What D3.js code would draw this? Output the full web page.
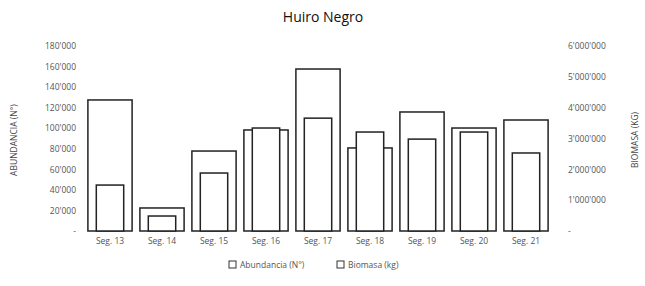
<html>
<head>
<meta charset="utf-8">
<style>
  body { margin: 0; background: #fff; }
  text { font-family: "Open Sans", "Liberation Sans", sans-serif; }
</style>
</head>
<body>
<script src="https://cdn.jsdelivr.net/npm/d3@7/dist/d3.min.js"></script>
<script>
var width = 645, height = 286;

var segments = ["Seg. 13", "Seg. 14", "Seg. 15", "Seg. 16", "Seg. 17", "Seg. 18", "Seg. 19", "Seg. 20", "Seg. 21"];
var abundancia = [127500, 22400, 77800, 98300, 157600, 80800, 115800, 100200, 108000];
var biomasa = [1490000, 486000, 1880000, 3340000, 3660000, 3210000, 2980000, 3210000, 2530000];
var leftTicks = [0, 20000, 40000, 60000, 80000, 100000, 120000, 140000, 160000, 180000];
var rightTicks = [0, 1000000, 2000000, 3000000, 4000000, 5000000, 6000000];
var seriesNames = ["Abundancia (N°)", "Biomasa (kg)"];

var fmt = function(v) {
    if (v == 0) return "-";
    return d3.format(",")(v).replace(/,/g, "'");
};

var svg = d3.select("body").append("svg")
    .attr("width", width)
    .attr("height", height);

var x = d3.scaleBand().domain(segments).range([84, 552]).paddingInner(0.15).paddingOuter(0.075);
var yL = d3.scaleLinear().domain([0, 180000]).range([231, 46]);
var yR = d3.scaleLinear().domain([0, 6000000]).range([231, 46]);

// title
svg.append("text")
    .attr("x", 323).attr("y", 22)
    .attr("text-anchor", "middle")
    .style("font-size", "14px")
    .style("fill", "#111")
    .text("Huiro Negro");

// left axis
var axL = svg.append("g")
    .attr("transform", "translate(80,0)")
    .call(d3.axisLeft(yL).tickValues(leftTicks).tickFormat(fmt).tickSize(0).tickPadding(4));
axL.select(".domain").remove();
axL.selectAll("text").style("font-size", "8.5px").style("fill", "#555");

// right axis
var axR = svg.append("g")
    .attr("transform", "translate(566,0)")
    .call(d3.axisRight(yR).tickValues(rightTicks).tickFormat(fmt).tickSize(0).tickPadding(2));
axR.select(".domain").remove();
axR.selectAll("text").style("font-size", "8.5px").style("fill", "#555");

// axis titles
svg.append("text")
    .attr("transform", "translate(17,140) rotate(-90)")
    .attr("text-anchor", "middle")
    .style("font-size", "8.5px").style("fill", "#444")
    .text("ABUNDANCIA (N°)");
svg.append("text")
    .attr("transform", "translate(638,140) rotate(-90)")
    .attr("text-anchor", "middle")
    .style("font-size", "8.5px").style("fill", "#444")
    .text("BIOMASA (KG)");

// outer bars: abundancia
svg.selectAll(".outer")
    .data(segments)
    .enter().append("rect")
    .attr("class", "outer")
    .attr("x", function(d) { return x(d); })
    .attr("width", x.bandwidth())
    .attr("y", function(d, i) { return yL(abundancia[i]); })
    .attr("height", function(d, i) { return yL(0) - yL(abundancia[i]); })
    .attr("fill", "#fff")
    .attr("stroke", "#222")
    .attr("stroke-width", 1.5);

// inner bars: biomasa
var innerW = x.bandwidth() * 0.62;
svg.selectAll(".inner")
    .data(segments)
    .enter().append("rect")
    .attr("class", "inner")
    .attr("x", function(d) { return x(d) + (x.bandwidth() - innerW) / 2; })
    .attr("width", innerW)
    .attr("y", function(d, i) { return yR(biomasa[i]); })
    .attr("height", function(d, i) { return yR(0) - yR(biomasa[i]); })
    .attr("fill", "#fff")
    .attr("stroke", "#222")
    .attr("stroke-width", 1.5);

// x labels
svg.selectAll(".xl")
    .data(segments)
    .enter().append("text")
    .attr("x", function(d) { return x(d) + x.bandwidth() / 2; })
    .attr("y", 244)
    .attr("text-anchor", "middle")
    .style("font-size", "8.5px").style("fill", "#555")
    .text(function(d) { return d; });

// legend
var legX = [229, 337];
var leg = svg.selectAll(".leg")
    .data(seriesNames)
    .enter().append("g")
    .attr("transform", function(d, i) { return "translate(" + legX[i] + ",268)"; });
leg.append("rect")
    .attr("x", 0).attr("y", -7).attr("width", 7).attr("height", 7)
    .attr("fill", "#fff").attr("stroke", "#333").attr("stroke-width", 1);
leg.append("text")
    .attr("x", 11).attr("y", 0)
    .style("font-size", "8.5px").style("fill", "#555")
    .text(function(d) { return d; });
</script>
</body>
</html>
